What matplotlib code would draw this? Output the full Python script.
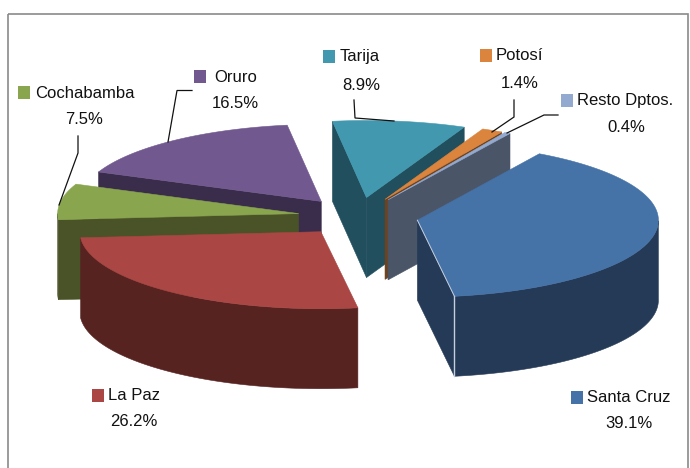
import numpy as np
import matplotlib
matplotlib.use("Agg")
import matplotlib.pyplot as plt
from matplotlib.patches import Polygon, Rectangle

# data
departments = ["Santa Cruz", "La Paz", "Cochabamba", "Oruro", "Tarija", "Potosí", "Resto Dptos."]
shares = [39.1, 26.2, 7.5, 16.5, 8.9, 1.4, 0.4]

# styles
top_colors = ["#4572A7", "#AA4643", "#89A54E", "#71588F", "#4198AF", "#DB843D", "#93A9CF"]
side_colors = ["#253A57", "#562321", "#4A5327", "#3A2C4B", "#214F5E", "#6E421E", "#4B5568"]

# layout (pixels)
W, H = 690, 468
CX, CY = 358.2, 216.6
RX, RY = 241.0, 77.0
DEPTH = 80.0
EXPLODE = 0.25
START_ANGLE = 59.6
FONT = ["Liberation Sans", "DejaVu Sans"]
FS = 12

# name: (square x, square y, text left x, text y, value centre x, value y)
label_pos = {
    "Santa Cruz": (571, 390.5, 587, 397, 629, 424),
    "La Paz": (92, 388.5, 108, 395, 134, 421),
    "Cochabamba": (18, 86, 35, 93, 84, 119),
    "Oruro": (194, 70, 214, 77, 235, 103),
    "Tarija": (323, 50, 340, 57, 361, 85),
    "Potosí": (480, 49, 496, 56, 520, 84),
    "Resto Dptos.": (561, 94, 577, 101, 626, 127),
}
leaders = {
    "Cochabamba": ([78, 78, 59], [136, 153, 205]),
    "Oruro": ([192, 177, 168], [90.5, 90.5, 142]),
    "Tarija": ([354, 355, 394], [100, 118, 121]),
    "Potosí": ([514, 514, 492], [100, 117, 132]),
    "Resto Dptos.": ([558, 544, 507], [115, 115, 133]),
}
draw_order = ["Oruro", "Tarija", "Potosí", "Resto Dptos.", "Cochabamba", "Santa Cruz", "La Paz"]

fig = plt.figure(figsize=(W / 100, H / 100), dpi=100, facecolor="white")
ax = fig.add_axes([0, 0, 1, 1])
ax.set_xlim(0, W)
ax.set_ylim(H, 0)
ax.axis("off")

# frame (its lower edge falls outside the picture)
ax.add_patch(Rectangle((7.5, 14), 680.5, 480, fill=False, ec="#8a8a8a", lw=1.2))

# slice angles, running clockwise
edges = START_ANGLE - np.cumsum([0] + shares) * 3.6
slices = {}
for i, name in enumerate(departments):
    slices[name] = (i, edges[i], edges[i + 1])


def pt(ax0, ay0, deg):
    r = np.radians(deg)
    return ax0 + RX * np.cos(r), ay0 - RY * np.sin(r)


for name in draw_order:
    i, t1, t2 = slices[name]
    mid = np.radians((t1 + t2) / 2)
    ox = CX + EXPLODE * RX * np.cos(mid)
    oy = CY - EXPLODE * RY * np.sin(mid)
    top, side = top_colors[i], side_colors[i]

    # flat sides facing the viewer
    for deg, visible in ((t1, np.cos(np.radians(t1)) < 0), (t2, np.cos(np.radians(t2)) > 0)):
        if visible:
            ex, ey = pt(ox, oy, deg)
            ax.add_patch(Polygon([(ox, oy), (ex, ey), (ex, ey + DEPTH), (ox, oy + DEPTH)],
                                 closed=True, fc=side, ec=side, lw=0.4))

    # curved outer wall: the part of the arc on the near side of the pie
    ts = np.linspace(t1, t2, 240)
    near = np.sin(np.radians(ts)) <= 0
    if near.any():
        rr = np.radians(ts[near])
        xs = ox + RX * np.cos(rr)
        ys = oy - RY * np.sin(rr)
        verts = np.column_stack([np.r_[xs, xs[::-1]], np.r_[ys, ys[::-1] + DEPTH]])
        ax.add_patch(Polygon(verts, closed=True, fc=side, ec=side, lw=0.4))

    # top face
    rr = np.radians(ts)
    verts = np.column_stack([np.r_[ox, ox + RX * np.cos(rr)], np.r_[oy, oy - RY * np.sin(rr)]])
    ax.add_patch(Polygon(verts, closed=True, fc=top, ec=top, lw=0.4))

    # pale edge on the largest slice's corner
    if name == "Santa Cruz":
        ex, ey = pt(ox, oy, t2)
        ax.plot([ex, ex], [ey, ey + DEPTH], color="#C5CFDD", lw=1.0)
        ax.plot([ox, ex], [oy, ey], color="#C5CFDD", lw=0.7)

# leader lines
for name, (xs, ys) in leaders.items():
    ax.plot(xs, ys, color="#111111", lw=0.9, solid_joinstyle="miter")

# labels
for i, name in enumerate(departments):
    sx, sy, tx, ty, vx, vy = label_pos[name]
    ax.add_patch(Rectangle((sx, sy), 12, 13, fc=top_colors[i], ec="none"))
    ax.text(tx, ty, name, family=FONT, fontsize=FS, ha="left", va="center", color="#111111")
    ax.text(vx, vy, f"{shares[i]:.1f}%", family=FONT, fontsize=FS, ha="center", va="center", color="#111111")

fig.savefig("out.png", dpi=100, facecolor="white")
